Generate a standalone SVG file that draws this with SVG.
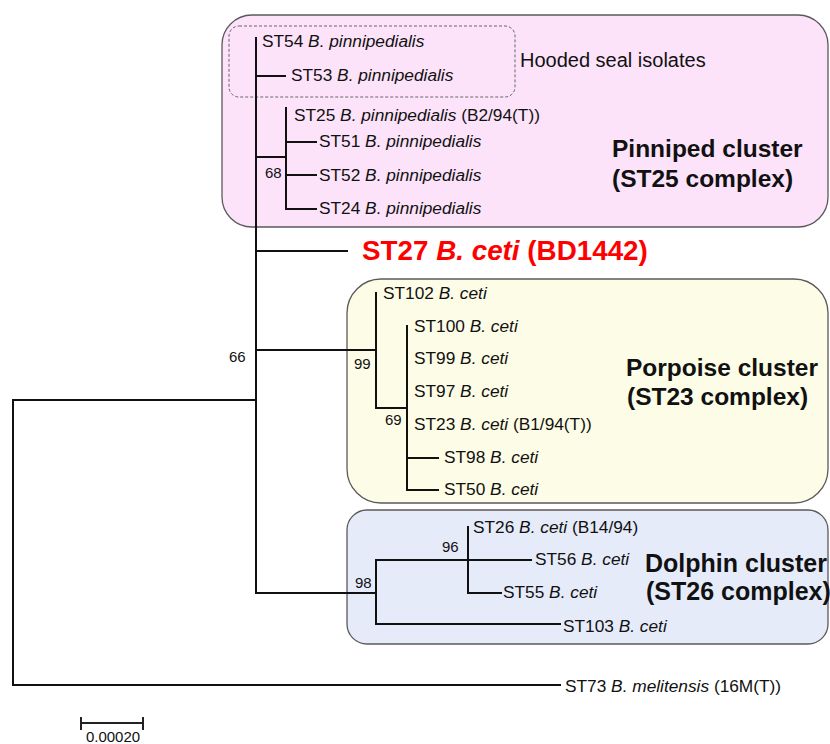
<svg xmlns="http://www.w3.org/2000/svg" width="830" height="744" viewBox="0 0 830 744">
<style>
text{font-family:"Liberation Sans",Arial,sans-serif;fill:#111}
.leaf{font-size:17.3px}
.bs{font-size:15px}
.cl{font-size:24.5px;font-weight:bold}
.it{font-style:italic}
.tree{fill:none;stroke:#111;stroke-width:2;stroke-linecap:square}
.box{stroke:#5a5a5a;stroke-width:1.3}
</style>
<rect width="830" height="744" fill="#fff"/>
<g id="pinniped-cluster">
<rect class="box" x="222" y="15" width="606" height="212" rx="30" fill="#fce3fa"/>
<text class="cl" x="612" y="157">Pinniped cluster</text>
<text class="cl" x="612" y="187">(ST25 complex)</text>
</g>
<g id="hooded-seal">
<rect x="229" y="26" width="286" height="71" rx="10" fill="none" stroke="#666" stroke-width="1" stroke-dasharray="3,2"/>
<text x="520" y="67" style="font-size:20px">Hooded seal isolates</text>
</g>
<g id="porpoise-cluster">
<rect class="box" x="347" y="279" width="481" height="224" rx="34" fill="#fdfce6"/>
<text class="cl" x="626" y="376">Porpoise cluster</text>
<text class="cl" x="627" y="405">(ST23 complex)</text>
</g>
<g id="dolphin-cluster">
<rect class="box" x="347" y="510" width="481" height="134" rx="20" fill="#e6ebfa"/>
<text class="cl" x="645" y="572" style="font-size:25px">Dolphin cluster</text>
<text class="cl" x="646" y="600" style="font-size:25px">(ST26 complex)</text>
</g>
<g id="connectors">
<path class="tree" d="M256,38 V593"/>
<path class="tree" d="M256,76 H285"/>
<path class="tree" d="M256,157 H286"/>
<path class="tree" d="M286,108 V209 H316"/>
<path class="tree" d="M286,142 H316"/>
<path class="tree" d="M286,175 H316"/>
<path class="tree" d="M256,251 H347"/>
<path class="tree" d="M256,350 H376"/>
<path class="tree" d="M376,293 V408 H407"/>
<path class="tree" d="M407,326 V490 H438"/>
<path class="tree" d="M407,458 H438"/>
<path class="tree" d="M256,593 H376"/>
<path class="tree" d="M376,560 V624 H560"/>
<path class="tree" d="M376,560 H531"/>
<path class="tree" d="M468,527 V593 H501"/>
<path class="tree" d="M256,400 H13 V685 H560"/>
<path d="M81,723 H143 M81,717 V730 M143,717 V730" fill="none" stroke="#222" stroke-width="2"/>
</g>
<g id="leaf-ST54"><text class="leaf" x="262" y="47">ST54 <tspan class="it">B. pinnipedialis</tspan></text></g>
<g id="leaf-ST53"><text class="leaf" x="291" y="81">ST53 <tspan class="it">B. pinnipedialis</tspan></text></g>
<g id="leaf-ST25"><text class="leaf" x="294" y="121">ST25 <tspan class="it">B. pinnipedialis</tspan> (B2/94(T))</text></g>
<g id="leaf-ST51"><text class="leaf" x="319" y="147">ST51 <tspan class="it">B. pinnipedialis</tspan></text></g>
<g id="leaf-ST52"><text class="leaf" x="319" y="181">ST52 <tspan class="it">B. pinnipedialis</tspan></text></g>
<g id="leaf-ST24"><text class="leaf" x="319" y="214">ST24 <tspan class="it">B. pinnipedialis</tspan></text></g>
<g id="leaf-ST27"><text x="362" y="260" style="font-size:27.8px;font-weight:bold;fill:#f00">ST27 <tspan class="it">B. ceti</tspan> (BD1442)</text></g>
<g id="leaf-ST102"><text class="leaf" x="383" y="299">ST102 <tspan class="it">B. ceti</tspan></text></g>
<g id="leaf-ST100"><text class="leaf" x="414" y="332">ST100 <tspan class="it">B. ceti</tspan></text></g>
<g id="leaf-ST99"><text class="leaf" x="414" y="364">ST99 <tspan class="it">B. ceti</tspan></text></g>
<g id="leaf-ST97"><text class="leaf" x="414" y="397">ST97 <tspan class="it">B. ceti</tspan></text></g>
<g id="leaf-ST23"><text class="leaf" x="414" y="430">ST23 <tspan class="it">B. ceti</tspan> (B1/94(T))</text></g>
<g id="leaf-ST98"><text class="leaf" x="444" y="463">ST98 <tspan class="it">B. ceti</tspan></text></g>
<g id="leaf-ST50"><text class="leaf" x="444" y="495">ST50 <tspan class="it">B. ceti</tspan></text></g>
<g id="leaf-ST26"><text class="leaf" x="473" y="533">ST26 <tspan class="it">B. ceti</tspan> (B14/94)</text></g>
<g id="leaf-ST56"><text class="leaf" x="535" y="565">ST56 <tspan class="it">B. ceti</tspan></text></g>
<g id="leaf-ST55"><text class="leaf" x="503" y="598">ST55 <tspan class="it">B. ceti</tspan></text></g>
<g id="leaf-ST103"><text class="leaf" x="563" y="632">ST103 <tspan class="it">B. ceti</tspan></text></g>
<g id="leaf-ST73"><text class="leaf" x="565" y="692">ST73 <tspan class="it">B. melitensis</tspan> (16M(T))</text></g>
<g id="bootstrap">
<text class="bs" x="265" y="178">68</text>
<text class="bs" x="229" y="362">66</text>
<text class="bs" x="354" y="369">99</text>
<text class="bs" x="385" y="425">69</text>
<text class="bs" x="442" y="552">96</text>
<text class="bs" x="355" y="588">98</text>
</g>
<g id="scale"><text class="bs" x="113" y="742" text-anchor="middle">0.00020</text></g>
</svg>
